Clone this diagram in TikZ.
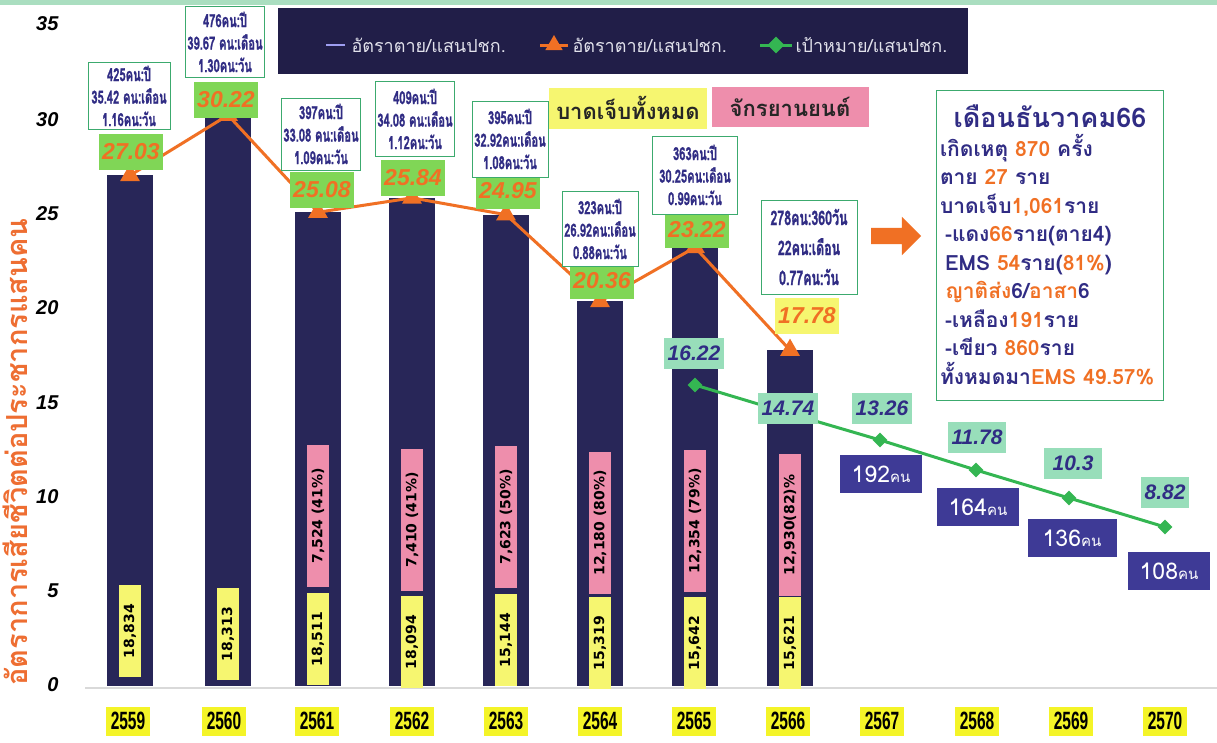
\documentclass[tikz,border=0pt]{standalone}
\usepackage{fontspec}
\setmainfont{Liberation Sans}
\newfontfamily\thaifont[Script=Thai]{Loma}
\newfontfamily\thaicond[Script=Thai,FakeStretch=0.62,BoldFeatures={FakeBold=1.3}]{Loma}
\newfontfamily\numfont{DejaVu Sans}
\newfontfamily\yearfont[FakeStretch=0.62]{Liberation Sans}
\usepackage{tikz}
\usetikzlibrary{shapes,arrows,positioning}
\definecolor{barnavy}{RGB}{40,38,88}
\definecolor{legendnavy}{RGB}{33,30,72}
\definecolor{rateorange}{RGB}{240,112,36}
\definecolor{axisorange}{RGB}{238,110,50}
\definecolor{valgreen}{RGB}{128,214,86}
\definecolor{targetgreen}{RGB}{52,182,82}
\definecolor{mint}{RGB}{152,222,186}
\definecolor{textnavy}{RGB}{48,44,132}
\definecolor{indigo}{RGB}{62,58,150}
\definecolor{injyellow}{RGB}{246,246,112}
\definecolor{yearyellow}{RGB}{244,244,40}
\definecolor{motopink}{RGB}{238,142,172}
\definecolor{boxgreen}{RGB}{60,170,110}
\definecolor{topband}{RGB}{170,222,192}
\definecolor{legendgrey}{RGB}{225,225,235}

\begin{document}
\begin{tikzpicture}[x=1pt,y=-1pt,
        barfill/.style={fill=barnavy},
        tri/.style={regular polygon,regular polygon sides=3,fill=rateorange,minimum size=23pt,inner sep=0pt},
        dia/.style={diamond,fill=targetgreen,minimum size=15pt,inner sep=0pt},
        ratebox/.style={fill=valgreen,minimum width=64pt,minimum height=36pt,text=rateorange,font=\bfseries\itshape\fontsize{23}{23}\selectfont},
        targetbox/.style={fill=mint,minimum width=58pt,minimum height=31pt,text=textnavy,font=\bfseries\itshape\fontsize{21}{21}\selectfont},
        countbox/.style={fill=indigo,text=white,minimum width=82pt,minimum height=38pt,font=\thaifont\fontsize{23}{23}\selectfont},
        infobox/.style={draw=boxgreen,thick,fill=white,align=center,text=textnavy,inner sep=2pt,font=\thaicond\bfseries\fontsize{18}{22.5}\selectfont},
        yearbox/.style={fill=yearyellow,minimum width=44pt,minimum height=29pt,inner sep=1pt,font=\yearfont\bfseries\fontsize{25}{25}\selectfont},
        allbox/.style={fill=injyellow,rotate=90,minimum width=92pt,minimum height=22pt,inner sep=0pt,font=\numfont\bfseries\fontsize{14}{14}\selectfont},
        motobox/.style={allbox,fill=motopink,minimum width=142pt},
        ticklabel/.style={anchor=east,font=\bfseries\itshape\fontsize{20}{20}\selectfont},
        legendtext/.style={anchor=west,text=legendgrey,font=\thaifont\fontsize{18}{18}\selectfont},
        ratepath/.style={rateorange,line width=3pt},
        targetpath/.style={targetgreen,line width=3pt}]
        \useasboundingbox (0,0) rectangle (1217,742);
        \fill[white] (0,0) rectangle (1217,742);
        \fill[topband] (0,0) rectangle (1217,5);

        \node[ticklabel] (y35) at (62,24)  {35};
        \node[ticklabel] (y30) at (62,120) {30};
        \node[ticklabel] (y25) at (62,214) {25};
        \node[ticklabel] (y20) at (62,308) {20};
        \node[ticklabel] (y15) at (62,403) {15};
        \node[ticklabel] (y10) at (62,497) {10};
        \node[ticklabel] (y5)  at (62,591) {5};
        \node[ticklabel] (y0)  at (62,685) {0};
        \node[rotate=90,text=axisorange,font=\thaifont\bfseries\fontsize{29}{29}\selectfont] (ytitle) at (15,452) {อัตราการเสียชีวิตต่อประชากรแสนคน};

        \coordinate (base0) at (85,688);
        \coordinate (base1) at (1217,688);
        \draw[black!15,line width=1.2pt] (base0) -- (base1);

        \begin{scope}[shift={(0,686)},y=18.89pt]
                \fill[barfill] (107,0) rectangle (153,27.03);
                \fill[barfill] (205,0) rectangle (251,30.22);
                \fill[barfill] (295,0) rectangle (341,25.08);
                \fill[barfill] (389,0) rectangle (435,25.84);
                \fill[barfill] (483,0) rectangle (529,24.95);
                \fill[barfill] (577,0) rectangle (623,20.36);
                \fill[barfill] (672,0) rectangle (718,23.22);
                \fill[barfill] (767,0) rectangle (813,17.78);
                \coordinate (d59) at (130,27.03);
                \coordinate (d60) at (228,30.22);
                \coordinate (d61) at (318,25.08);
                \coordinate (d62) at (412,25.84);
                \coordinate (d63) at (506,24.95);
                \coordinate (d64) at (600,20.36);
                \coordinate (d65) at (695,23.22);
                \coordinate (d66) at (790,17.78);
        \end{scope}

        \node[allbox] (all59) at (130,631) {18,834};
        \node[allbox] (all60) at (228,634) {18,313};
        \node[allbox] (all61) at (318,639) {18,511};
        \node[allbox] (all62) at (412,642) {18,094};
        \node[allbox] (all63) at (506,640) {15,144};
        \node[allbox] (all64) at (600,643) {15,319};
        \node[allbox] (all65) at (695,643) {15,642};
        \node[allbox] (all66) at (790,643) {15,621};
        \node[motobox] (moto61) at (318,516) {7,524 (41\%)};
        \node[motobox] (moto62) at (412,520) {7,410 (41\%)};
        \node[motobox] (moto63) at (506,517) {7,623 (50\%)};
        \node[motobox] (moto64) at (600,523) {12,180 (80\%)};
        \node[motobox] (moto65) at (695,521) {12,354 (79\%)};
        \node[motobox] (moto66) at (790,525) {12,930(82)\%};

        \draw[ratepath] (d59) -- (d60) -- (d61) -- (d62) -- (d63) -- (d64) -- (d65) -- (d66);
        \node[tri] (t59) at (d59) {};
        \node[tri] (t60) at (d60) {};
        \node[tri] (t61) at (d61) {};
        \node[tri] (t62) at (d62) {};
        \node[tri] (t63) at (d63) {};
        \node[tri] (t64) at (d64) {};
        \node[tri] (t65) at (d65) {};
        \node[tri] (t66) at (d66) {};

        \node[ratebox] (r59) at (131,152) {27.03};
        \node[ratebox] (r60) at (226,100) {30.22};
        \node[ratebox] (r61) at (322,190) {25.08};
        \node[ratebox] (r62) at (413,178) {25.84};
        \node[ratebox] (r63) at (508,191) {24.95};
        \node[ratebox] (r64) at (602,281) {20.36};
        \node[ratebox] (r65) at (697,230) {23.22};
        \node[ratebox,fill=injyellow] (r66) at (807,316) {17.78};

        \node[infobox,minimum width=82pt,minimum height=67pt] (i59) at (129,96)  {425คน:ปี\\35.42 คน:เดือน\\1.16คน:วัน};
        \node[infobox,minimum width=74pt,minimum height=71pt] (i60) at (225,42)  {476คน:ปี\\39.67 คน:เดือน\\1.30คน:วัน};
        \node[infobox,minimum width=68pt,minimum height=72pt] (i61) at (321,134) {397คน:ปี\\33.08 คน:เดือน\\1.09คน:วัน};
        \node[infobox,minimum width=75pt,minimum height=75pt] (i62) at (415,119) {409คน:ปี\\34.08 คน:เดือน\\1.12คน:วัน};
        \node[infobox,minimum width=76pt,minimum height=76pt] (i63) at (510,139) {395คน:ปี\\32.92คน:เดือน\\1.08คน:วัน};
        \node[infobox,minimum width=76pt,minimum height=75pt] (i64) at (600,229) {323คน:ปี\\26.92คน:เดือน\\0.88คน:วัน};
        \node[infobox,minimum width=85pt,minimum height=78pt] (i65) at (695,175) {363คน:ปี\\30.25คน:เดือน\\0.99คน:วัน};
        \node[infobox,minimum width=96pt,minimum height=94pt,font=\thaicond\bfseries\fontsize{20}{30}\selectfont] (i66) at (809,247) {278คน:360วัน\\22คน:เดือน\\0.77คน:วัน};

        \coordinate (g65) at (695,385);
        \coordinate (g66) at (788,413);
        \coordinate (g67) at (880,440);
        \coordinate (g68) at (976,470);
        \coordinate (g69) at (1069,498);
        \coordinate (g70) at (1165,527);
        \draw[targetpath] (g65) -- (g66) -- (g67) -- (g68) -- (g69) -- (g70);
        \node[dia] (m65) at (g65) {};
        \node[dia] (m67) at (g67) {};
        \node[dia] (m68) at (g68) {};
        \node[dia] (m69) at (g69) {};
        \node[dia] (m70) at (g70) {};
        \node[targetbox] (p65) at (694,353)  {16.22};
        \node[targetbox] (p66) at (788,408)  {14.74};
        \node[targetbox] (p67) at (882,408)  {13.26};
        \node[targetbox] (p68) at (977,437)  {11.78};
        \node[targetbox] (p69) at (1073,463) {10.3};
        \node[targetbox,minimum width=46pt] (p70) at (1165,492) {8.82};

        \node[countbox] (c67) at (881,474)  {192{\fontsize{15}{15}\selectfont คน}};
        \node[countbox] (c68) at (978,507)  {164{\fontsize{15}{15}\selectfont คน}};
        \node[countbox,minimum width=89pt] (c69) at (1072,538) {136{\fontsize{15}{15}\selectfont คน}};
        \node[countbox] (c70) at (1169,571) {108{\fontsize{15}{15}\selectfont คน}};

        \node[fill=legendnavy,minimum width=690pt,minimum height=66pt] (legend) at (623,41) {};
        \coordinate (lgA1) at (326,45);
        \coordinate (lgA2) at (345,45);
        \draw[legendgrey!70!blue,line width=2.5pt] (lgA1) -- (lgA2);
        \node[legendtext] (lgtA) at (348,45) {อัตราตาย/แสนปชก.};
        \coordinate (lgB1) at (540,45);
        \coordinate (lgB2) at (568,45);
        \draw[ratepath] (lgB1) -- (lgB2);
        \node[tri,minimum size=20pt] (lgB) at (554,45) {};
        \node[legendtext] (lgtB) at (569,45) {อัตราตาย/แสนปชก.};
        \coordinate (lgC1) at (760,45);
        \coordinate (lgC2) at (792,45);
        \draw[targetpath] (lgC1) -- (lgC2);
        \node[dia,minimum size=17pt] (lgC) at (776,45) {};
        \node[legendtext] (lgtC) at (792,45) {เป้าหมาย/แสนปชก.};

        \node[fill=injyellow,minimum width=158pt,minimum height=41pt,text=black!85,font=\thaifont\bfseries\fontsize{22}{22}\selectfont] (alllabel) at (628,108) {บาดเจ็บทั้งหมด};
        \node[fill=motopink,minimum width=157pt,minimum height=40pt,text=black!85,font=\thaifont\bfseries\fontsize{22}{22}\selectfont] (motolabel) at (790,107) {จักรยานยนต์};

        \node[single arrow,fill=rateorange,inner sep=8pt,single arrow head extend=11pt,minimum height=50pt] (toinfo) at (892,236) {};

        \node[draw=boxgreen,thick,fill=white,text width=220pt,minimum height=310pt,align=left,text=textnavy,
              font=\thaifont\bfseries\fontsize{21}{28.5}\selectfont] (dec66) at (1050,245)
              {\makebox[220pt]{\fontsize{27}{27}\selectfont เดือนธันวาคม66}\\
               เกิดเหตุ \textcolor{rateorange}{870} ครั้ง\\
               ตาย \textcolor{rateorange}{27} ราย\\
               บาดเจ็บ\textcolor{rateorange}{1,061}ราย\\
               \hspace*{5pt}-แดง\textcolor{rateorange}{66}ราย(ตาย4)\\
               \hspace*{5pt}EMS \textcolor{rateorange}{54}ราย(\textcolor{rateorange}{81\%})\\
               \hspace*{5pt}\textcolor{rateorange}{ญาติส่ง}6/\textcolor{rateorange}{อาสา}6\\
               \hspace*{5pt}-เหลือง\textcolor{rateorange}{191}ราย\\
               \hspace*{5pt}-เขียว \textcolor{rateorange}{860}ราย\\
               ทั้งหมดมา\textcolor{rateorange}{EMS 49.57\%}};

        \node[yearbox] (yr59) at (128,721)  {2559};
        \node[yearbox] (yr60) at (224,721)  {2560};
        \node[yearbox] (yr61) at (317,721)  {2561};
        \node[yearbox] (yr62) at (412,721)  {2562};
        \node[yearbox] (yr63) at (506,721)  {2563};
        \node[yearbox] (yr64) at (600,721)  {2564};
        \node[yearbox] (yr65) at (694,721)  {2565};
        \node[yearbox] (yr66) at (788,721)  {2566};
        \node[yearbox] (yr67) at (882,721)  {2567};
        \node[yearbox] (yr68) at (977,721)  {2568};
        \node[yearbox] (yr69) at (1071,721) {2569};
        \node[yearbox] (yr70) at (1165,721) {2570};
\end{tikzpicture}
\end{document}
